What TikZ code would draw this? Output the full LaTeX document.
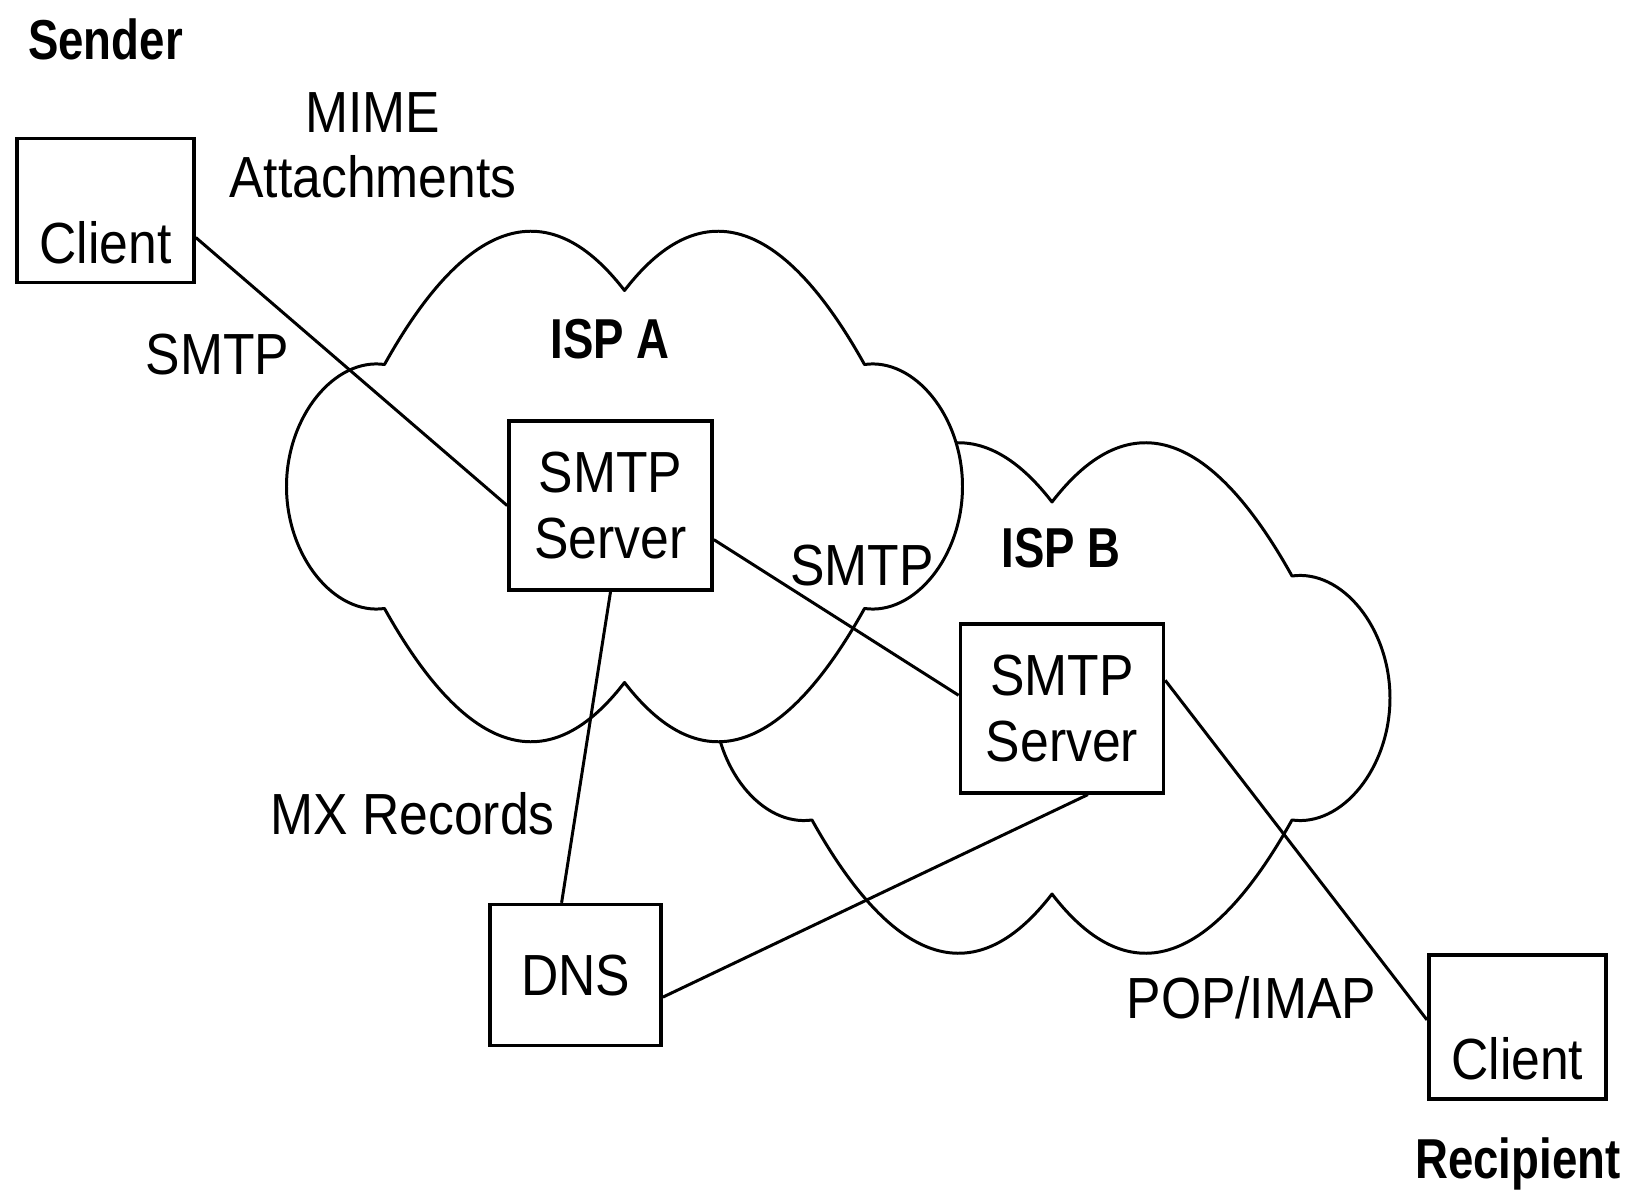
\documentclass[tikz,border=0pt]{standalone}
\usepackage{fontspec}
\setmainfont{Liberation Sans}[FakeStretch=0.89]
\newfontfamily\headfont{Liberation Sans}[FakeStretch=0.81]
\usepackage{tikz}

\newcommand{\labelsize}{\fontsize{16.5}{18.7}\selectfont}
\newcommand{\headsize}{\headfont\bfseries\fontsize{16}{19}\selectfont}

% one ISP cloud around the given centre (units: x=0.01cm, y=-0.01cm)
\newcommand{\ispcloud}[1]{%
  \begin{scope}[shift={#1}]
    \path[cloudline] (-240,-122)
      .. controls (-162,-262) and (-80,-300) .. (0,-196)
      .. controls (80,-300) and (162,-262) .. (240,-122)
      .. controls (290,-129) and (338,-70) .. (338,0)
      .. controls (338,70) and (290,129) .. (240,122)
      .. controls (162,262) and (80,300) .. (0,196)
      .. controls (-80,300) and (-162,262) .. (-240,122)
      .. controls (-290,129) and (-338,70) .. (-338,0)
      .. controls (-338,-70) and (-290,-129) .. cycle;
  \end{scope}}

\begin{document}
\begin{tikzpicture}[
    x=0.01cm, y=-0.01cm,
    cloudline/.style={draw, fill=white, line width=0.85pt, line join=round},
    box/.style={draw, line width=1pt, fill=white, inner sep=0pt,
        align=center, font=\labelsize},
    clientbox/.style={box, minimum width=1.77cm, minimum height=1.44cm,
        text height=30pt, text depth=0pt},
    serverbox/.style={box, minimum width=2.03cm, minimum height=1.69cm},
    dnsbox/.style={box, minimum width=1.71cm, minimum height=1.41cm},
    link/.style={line width=0.85pt},
    tag/.style={anchor=base, inner sep=0pt, font=\labelsize},
    heading/.style={anchor=base, inner sep=0pt, font=\headsize}
]
\useasboundingbox (0,0) rectangle (1638,1194);

% clouds (B behind A)
\ispcloud{(1052,698)}
\ispcloud{(624.5,486.5)}

% boxes
\node[clientbox] (clientS) at (105.5,210.5) {Client};
\node[serverbox] (serverA) at (610.5,505.6) {SMTP\\Server};
\node[serverbox] (serverB) at (1061.9,708.3) {SMTP\\Server};
\node[dnsbox] (dns) at (575.6,975.1) {DNS};
\node[clientbox] (clientR) at (1517.3,1026.9) {Client};

% connectors
\draw[link] ([yshift=-0.27cm]clientS.east) -- (serverA.west);
\draw[link] ([yshift=-0.34cm]serverA.east) -- ([yshift=0.13cm]serverB.west);
\draw[link] (serverA.south) -- ([xshift=-0.14cm]dns.north);
\draw[link] ([yshift=-0.22cm]dns.east) -- ([xshift=0.26cm]serverB.south);
\draw[link] ([yshift=0.28cm]serverB.east) -- ([yshift=0.07cm]clientR.west);

% labels
\node[heading] (sender) at (105.5,59.5) {Sender};
\node[heading] (recipient) at (1517.8,1178.3) {Recipient};
\node[heading] (ispA) at (610,358.3) {ISP A};
\node[heading] (ispB) at (1061.3,567.2) {ISP B};
\node[font=\labelsize, align=center, inner sep=0pt] (mime) at (373,145.3) {MIME\\Attachments};
\node[tag] (smtpA) at (217.3,375) {SMTP};
\node[tag] (smtpB) at (861.8,586) {SMTP};
\node[tag] (mx) at (412.6,834.6) {MX Records};
\node[tag] (pop) at (1251.4,1018.5) {POP/IMAP};
\end{tikzpicture}
\end{document}
